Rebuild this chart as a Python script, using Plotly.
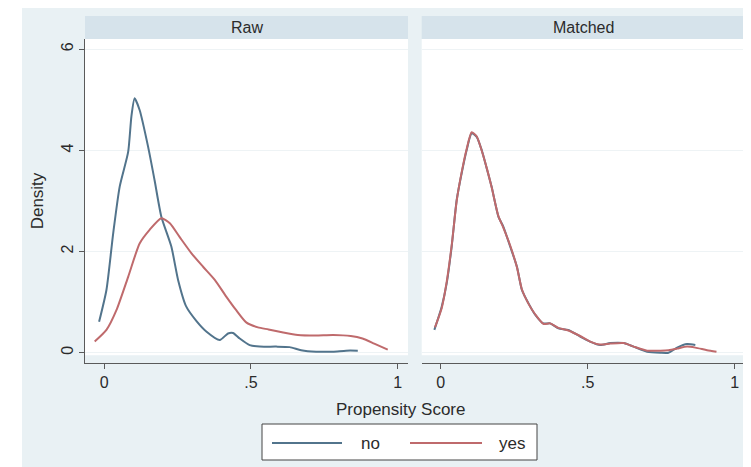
import plotly.graph_objects as go

# ---- data ----
raw_no_x = [-0.017, 0.008, 0.031, 0.053, 0.082, 0.093, 0.104, 0.121, 0.150, 0.172, 0.195, 0.229,
            0.252, 0.280, 0.314, 0.348, 0.394, 0.422, 0.439, 0.462, 0.496, 0.530, 0.586, 0.632,
            0.671, 0.722, 0.779, 0.824, 0.864]
raw_no_y = [0.61, 1.24, 2.36, 3.28, 3.97, 4.67, 5.03, 4.80, 4.07, 3.41, 2.69, 2.10,
            1.44, 0.91, 0.63, 0.42, 0.25, 0.38, 0.39, 0.28, 0.15, 0.12, 0.12, 0.11,
            0.05, 0.02, 0.02, 0.04, 0.04]

raw_yes_x = [-0.032, 0.008, 0.042, 0.082, 0.121, 0.155, 0.195, 0.224, 0.257, 0.297, 0.337, 0.377,
             0.416, 0.450, 0.484, 0.524, 0.560, 0.610, 0.660, 0.720, 0.780, 0.840, 0.880,
             0.920, 0.966]
raw_yes_y = [0.22, 0.45, 0.84, 1.50, 2.16, 2.43, 2.66, 2.56, 2.29, 1.97, 1.70, 1.44,
             1.11, 0.84, 0.60, 0.50, 0.46, 0.40, 0.35, 0.34, 0.35, 0.33, 0.28,
             0.18, 0.06]

m_no_x = [-0.022, 0.003, 0.020, 0.037, 0.054, 0.071, 0.088, 0.105, 0.122, 0.139, 0.156, 0.173,
          0.196, 0.213, 0.236, 0.259, 0.276, 0.298, 0.321, 0.349, 0.372, 0.400, 0.434, 0.474,
          0.508, 0.542, 0.577, 0.622, 0.656, 0.702, 0.747, 0.775, 0.804, 0.838, 0.866]
m_no_y = [0.45, 0.91, 1.37, 2.10, 3.02, 3.55, 4.01, 4.34, 4.27, 4.01, 3.65, 3.28,
          2.69, 2.49, 2.10, 1.70, 1.24, 0.98, 0.75, 0.58, 0.58, 0.48, 0.45, 0.32,
          0.22, 0.15, 0.19, 0.19, 0.12, 0.02, 0.00, 0.00, 0.10, 0.17, 0.15]

m_yes_x = [-0.020, 0.003, 0.020, 0.037, 0.054, 0.071, 0.088, 0.105, 0.122, 0.139, 0.156, 0.173,
           0.196, 0.213, 0.236, 0.259, 0.276, 0.298, 0.321, 0.349, 0.372, 0.400, 0.434, 0.474,
           0.508, 0.542, 0.577, 0.622, 0.656, 0.702, 0.747, 0.775, 0.804, 0.838, 0.866,
           0.906, 0.938]
m_yes_y = [0.50, 0.88, 1.40, 2.12, 3.00, 3.57, 4.03, 4.36, 4.28, 4.00, 3.66, 3.27,
           2.70, 2.47, 2.12, 1.69, 1.25, 0.97, 0.76, 0.57, 0.58, 0.49, 0.44, 0.33,
           0.22, 0.16, 0.18, 0.19, 0.12, 0.04, 0.04, 0.05, 0.08, 0.12, 0.10,
           0.05, 0.02]

panel_titles = ["Raw", "Matched"]
x_tickvals = [0, 0.5, 1]
x_ticktext = ["0", ".5", "1"]
y_tickvals = [0, 2, 4, 6]
y_ticktext = ["0", "2", "4", "6"]
group_names = ["no", "yes"]

# ---- styling ----
BG = "#e9f1f4"
STRIP = "#d6e3eb"
GRID = "#eef3f5"
AXC = "#5a5a5a"
TXT = "#2b2b2b"
C_NO = "#52748c"
C_YES = "#bf6a6c"
FONT = "Liberation Sans, Arial, sans-serif"

# page body has an 8px margin; size the figure to fill the rest of the window
OFF = 8
W, H = 751 - OFF, 467 - OFF


def px_x(p):
    return (p - OFF) / W


def px_y(p):
    return 1 - (p - OFF) / H


fig = go.Figure()
line_kw = dict(width=2, shape="spline", smoothing=0.6)
fig.add_trace(go.Scatter(x=raw_no_x, y=raw_no_y, mode="lines", name=group_names[0],
                         line=dict(color=C_NO, **line_kw), xaxis="x", yaxis="y"))
fig.add_trace(go.Scatter(x=raw_yes_x, y=raw_yes_y, mode="lines", name=group_names[1],
                         line=dict(color=C_YES, **line_kw), xaxis="x", yaxis="y"))
fig.add_trace(go.Scatter(x=m_no_x, y=m_no_y, mode="lines", name=group_names[0],
                         line=dict(color=C_NO, **line_kw), xaxis="x2", yaxis="y2"))
fig.add_trace(go.Scatter(x=m_yes_x, y=m_yes_y, mode="lines", name=group_names[1],
                         line=dict(color=C_YES, **line_kw), xaxis="x2", yaxis="y2"))

ydom = [px_y(363), px_y(39)]
xdom1 = [px_x(85), px_x(408)]
xdom2 = [px_x(421.7), px_x(745)]
xr = [-0.065, 1.035]
yr = [-0.204, 6.204]

xaxis_common = dict(range=xr, tickvals=x_tickvals, ticktext=x_ticktext, showline=True,
                    linecolor=AXC, linewidth=1, ticks="outside", ticklen=5, tickcolor=AXC,
                    showgrid=False, zeroline=False, tickfont=dict(size=16, color=TXT, family=FONT))

fig.update_layout(
    width=W, height=H,
    margin=dict(l=0, r=0, t=0, b=0),
    paper_bgcolor="white",
    plot_bgcolor=BG,
    font=dict(family=FONT, color=TXT),
    showlegend=False,
    xaxis=dict(domain=xdom1, anchor="y", **xaxis_common),
    xaxis2=dict(domain=xdom2, anchor="y2", **xaxis_common),
    yaxis=dict(domain=ydom, anchor="x", range=yr, tickvals=y_tickvals, ticktext=y_ticktext,
               showline=True, linecolor=AXC, linewidth=1, ticks="outside", ticklen=5,
               tickcolor=AXC, tickangle=-90, showgrid=True, gridcolor=GRID, gridwidth=1,
               zeroline=False, tickfont=dict(size=16, color=TXT, family=FONT),
               title=dict(text="Density", font=dict(size=17, color=TXT, family=FONT), standoff=10)),
    yaxis2=dict(domain=ydom, anchor="x2", range=yr, tickvals=y_tickvals, showticklabels=False,
                showline=False, ticks="", showgrid=True, gridcolor=GRID, gridwidth=1,
                zeroline=False),
)

shapes = [
    # outer graph region background
    dict(type="rect", xref="paper", yref="paper", x0=px_x(22), x1=1, y0=0, y1=1,
         fillcolor=BG, line=dict(width=0), layer="below"),
]
for xa, ya in (("x", "y"), ("x2", "y2")):
    shapes.append(dict(type="rect", xref=f"{xa} domain", yref=ya, x0=0, x1=1, y0=-0.05, y1=6.204,
                       fillcolor="white", line=dict(width=0), layer="below"))
for dom in (xdom1, xdom2):
    shapes.append(dict(type="rect", xref="paper", yref="paper", x0=dom[0], x1=dom[1],
                       y0=px_y(39), y1=px_y(16), fillcolor=STRIP, line=dict(width=0),
                       layer="below"))

# legend box (drawn by hand to get Stata's long key lines)
shapes.append(dict(type="rect", xref="paper", yref="paper", x0=px_x(262), x1=px_x(537),
                   y0=px_y(460), y1=px_y(424), fillcolor="white",
                   line=dict(color="#444444", width=1), layer="above"))
key_y = px_y(443)
for (x0, x1), col in zip(((272, 342), (410, 482)), (C_NO, C_YES)):
    shapes.append(dict(type="line", xref="paper", yref="paper", x0=px_x(x0), x1=px_x(x1),
                       y0=key_y, y1=key_y, line=dict(color=col, width=2), layer="above"))
fig.update_layout(shapes=shapes)

annotations = []
for dom, title in zip((xdom1, xdom2), panel_titles):
    annotations.append(dict(text=title, xref="paper", yref="paper", x=(dom[0] + dom[1]) / 2,
                            y=px_y(27.5), xanchor="center", yanchor="middle", showarrow=False,
                            font=dict(size=16, color=TXT, family=FONT)))
annotations.append(dict(text="Propensity Score", xref="paper", yref="paper", x=px_x(400),
                        y=px_y(409), xanchor="center", yanchor="middle", showarrow=False,
                        font=dict(size=17, color=TXT, family=FONT)))
for xc, name in zip((370, 512), group_names):
    annotations.append(dict(text=name, xref="paper", yref="paper", x=px_x(xc), y=key_y,
                            xanchor="center", yanchor="middle", showarrow=False,
                            font=dict(size=17, color=TXT, family=FONT)))
fig.update_layout(annotations=annotations)

fig.write_html("out.html")
